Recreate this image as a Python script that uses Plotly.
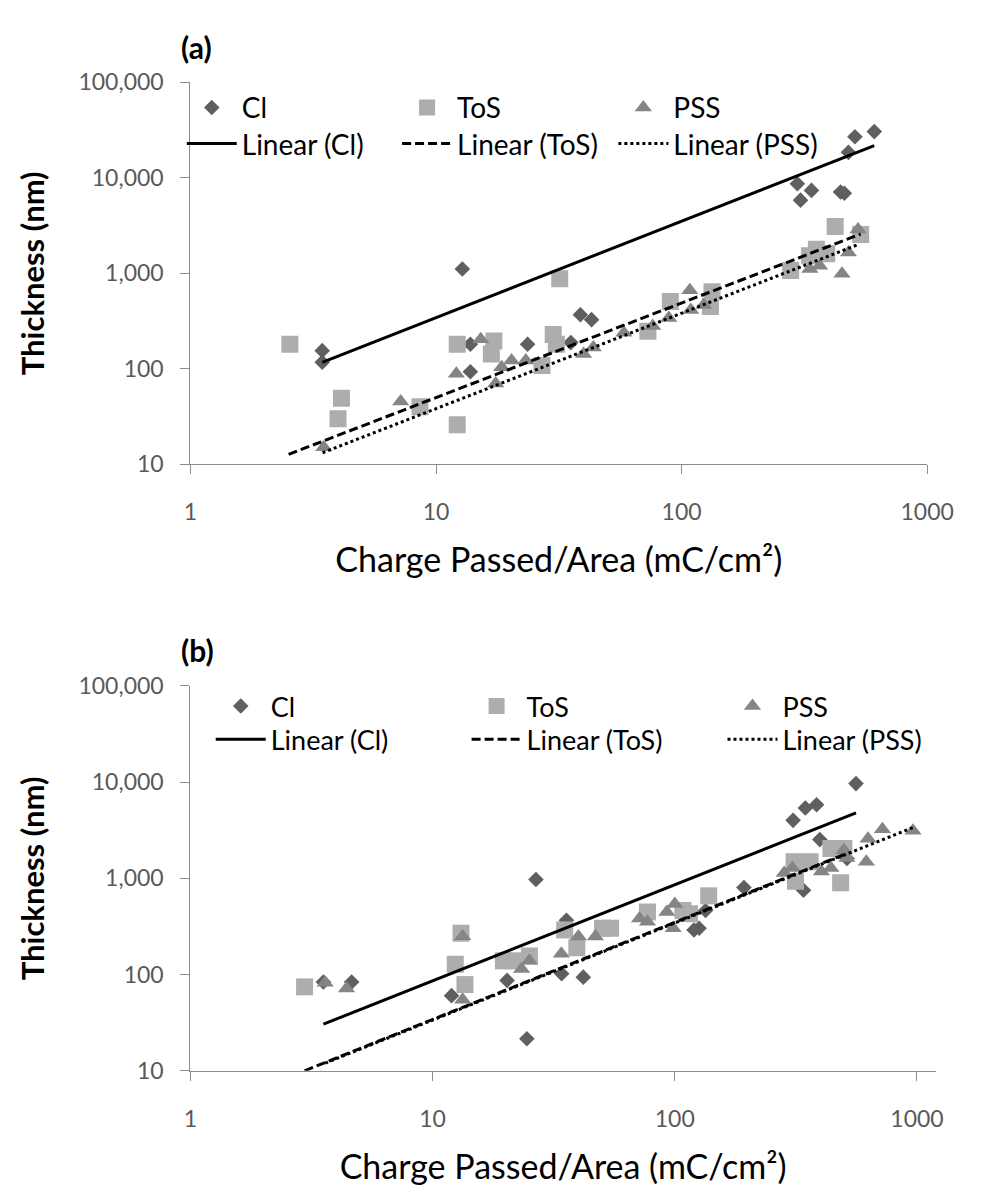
import plotly.graph_objects as go

W, H = 987, 1200

# ---------------- Panel (a) data ----------------
a_cl_x = [3.44, 3.44, 12.8, 13.8, 13.8, 23.6, 35.4, 38.7, 43, 296, 305, 338, 444, 460, 478, 508, 609]
a_cl_y = [155, 117, 1110, 181, 93, 181, 188, 368, 327, 8670, 5840, 7390, 7110, 6900, 18500, 27000, 30500]

a_tos_x = [2.54, 4.12, 3.99, 8.6, 12.2, 12.2, 16.8, 17.2, 27, 30, 30.9, 31.9, 72.9, 90, 131, 133, 278, 332, 354, 390, 422, 536]
a_tos_y = [181, 49, 30, 40, 26, 181, 143, 196, 108, 229, 181, 878, 248, 506, 449, 641, 1070, 1530, 1790, 1600, 3100, 2550]

a_pss_x = [3.49, 7.18, 12.1, 15.2, 17.5, 18.5, 20.3, 23.2, 39.9, 43.7, 58.2, 76.3, 88.7, 108, 109, 123, 333, 365, 450, 478, 523]
a_pss_y = [15.1, 45.5, 89, 204, 70, 104, 122, 122, 143, 167, 239, 280, 341, 665, 414, 466, 1110, 1200, 988, 1650, 2870]

a_fit_cl_x, a_fit_cl_y = [3.44, 609], [117, 21800]
a_fit_tos_x, a_fit_tos_y = [2.51, 536], [12.7, 2580]
a_fit_pss_x, a_fit_pss_y = [3.45, 523], [13.2, 2000]

# ---------------- Panel (b) data ----------------
b_cl_x = [3.54, 4.63, 11.97, 20.3, 24.5, 26.7, 34.1, 35.7, 41.9, 120, 126, 134, 193, 308, 340, 346, 385, 397, 514, 560]
b_cl_y = [83.7, 83.7, 60.4, 87, 21.5, 972, 102, 367, 94, 291, 303, 463, 802, 4010, 752, 5380, 5830, 2530, 1610, 9660]

b_tos_x = [2.96, 12.4, 13.1, 13.6, 19.6, 21.5, 25.1, 35.1, 39.4, 50.3, 54.3, 77.1, 108, 115, 138, 311, 315, 362, 441, 484, 499]
b_tos_y = [74.5, 128, 269, 78.7, 139, 139, 156, 291, 190, 303, 303, 447, 463, 429, 658, 1490, 935, 1490, 2040, 900, 2040]

b_pss_x = [3.6, 4.41, 13.3, 13.3, 23.3, 25.1, 34, 40, 47, 71.5, 77.1, 92.7, 98.5, 100, 283, 306, 403, 441, 499, 514, 618, 628, 720, 963]
b_pss_y = [82, 71.6, 250, 54.6, 114, 139, 165, 249, 249, 382, 354, 447, 303, 542, 1140, 1280, 1180, 1280, 1960, 1630, 1490, 2580, 3250, 3130]

b_fit_cl_x, b_fit_cl_y = [3.54, 560], [30.5, 4800]
b_fit_tos_x, b_fit_tos_y = [2.96, 499], [10, 1770]
b_fit_pss_x, b_fit_pss_y = [3.6, 963], [12, 3380]

# ---------------- tick labels ----------------
x_tickvals = [1, 10, 100, 1000]
x_ticktext = ["1", "10", "100", "1000"]
y_tickvals = [10, 100, 1000, 10000, 100000]
y_ticktext = ["10", "100", "1,000", "10,000", "100,000"]

series_names = ["Cl", "ToS", "PSS"]
fit_names = ["Linear (Cl)", "Linear (ToS)", "Linear (PSS)"]

CL_COLOR = "#5f5f5f"
TOS_COLOR = "#adadad"
PSS_COLOR = "#858585"

marker_styles = [dict(symbol="diamond", size=12, color=CL_COLOR),
                 dict(symbol="square", size=17, color=TOS_COLOR),
                 dict(symbol="triangle-up", size=15, color=PSS_COLOR)]
line_styles = [dict(color="black", width=3),
               dict(color="black", width=3, dash="9px,4px"),
               dict(color="black", width=3, dash="3px,3px")]

fig = go.Figure()
legend_layout = {}


def leg_id(n):
    return "legend" if n == 1 else "legend%d" % n


def leg_box(x0, yc, fsize):
    return dict(x=(x0 - 1) / W, y=1 - yc / H, xanchor="left", yanchor="middle",
                visible=True, itemwidth=50, bgcolor="rgba(0,0,0,0)",
                font=dict(size=fsize, color="black", family="Lato, sans-serif"))


def add_panel(xa, ya, leg_start, pts, fits, col_px, row_px, fsize):
    n = leg_start
    for i in range(3):
        lid = leg_id(n)
        fig.add_trace(go.Scatter(x=pts[i][0], y=pts[i][1], mode="markers", name=series_names[i],
                                 marker=marker_styles[i], xaxis=xa, yaxis=ya, legend=lid))
        legend_layout[lid] = leg_box(col_px[i], row_px[0], fsize)
        n += 1
    for i in range(3):
        lid = leg_id(n)
        fig.add_trace(go.Scatter(x=fits[i][0], y=fits[i][1], mode="lines", name=fit_names[i],
                                 line=line_styles[i], xaxis=xa, yaxis=ya, legend=lid))
        legend_layout[lid] = leg_box(col_px[i], row_px[1], fsize)
        n += 1


add_panel("x", "y", 1,
          [(a_cl_x, a_cl_y), (a_tos_x, a_tos_y), (a_pss_x, a_pss_y)],
          [(a_fit_cl_x, a_fit_cl_y), (a_fit_tos_x, a_fit_tos_y), (a_fit_pss_x, a_fit_pss_y)],
          col_px=[182, 405, 629], row_px=[95, 132], fsize=28)
add_panel("x2", "y2", 7,
          [(b_cl_x, b_cl_y), (b_tos_x, b_tos_y), (b_pss_x, b_pss_y)],
          [(b_fit_cl_x, b_fit_cl_y), (b_fit_tos_x, b_fit_tos_y), (b_fit_pss_x, b_fit_pss_y)],
          col_px=[212, 477, 742], row_px=[708, 742], fsize=27)

AXCOL = "#8c8c8c"
axis_common = dict(type="log", showline=True, linecolor=AXCOL, linewidth=1.3,
                   ticks="outside", ticklen=9, tickwidth=1.3, tickcolor=AXCOL,
                   showgrid=False, zeroline=False, mirror=False,
                   tickfont=dict(size=23, color="#595959", family="Lato, sans-serif"))

xtitle = dict(text="Charge Passed/Area (mC/cm²)",
              font=dict(size=34, color="black", family="Lato, sans-serif"), standoff=24)
ytitle = dict(text="<b>Thickness (nm)</b>",
              font=dict(size=31, color="black", family="Lato, sans-serif"), standoff=24)


def px_x(p):
    return p / W


def px_y(p):
    return 1 - p / H


fig.update_layout(
    width=W, height=H,
    margin=dict(l=0, r=0, t=0, b=0),
    paper_bgcolor="white", plot_bgcolor="white",
    showlegend=True,
    font=dict(family="Lato, sans-serif", color="black"),
    xaxis=dict(axis_common, range=[0, 3], domain=[px_x(190), px_x(953)], anchor="y",
               tickvals=x_tickvals, ticktext=x_ticktext, ticklabelstandoff=18, title=xtitle),
    yaxis=dict(axis_common, range=[1, 5], domain=[px_y(460), px_y(69)], anchor="x",
               tickvals=y_tickvals, ticktext=y_ticktext, ticklabelstandoff=12, title=ytitle),
    xaxis2=dict(axis_common, range=[0, 3.078], domain=[px_x(190), px_x(962)], anchor="y2",
                tickvals=x_tickvals, ticktext=x_ticktext, ticklabelstandoff=18, title=xtitle),
    yaxis2=dict(axis_common, range=[1, 5], domain=[px_y(1081), px_y(687)], anchor="x2",
                tickvals=y_tickvals, ticktext=y_ticktext, ticklabelstandoff=12, title=ytitle),
    annotations=[
        dict(text="<b>(a)</b>", x=px_x(196), y=px_y(33), xref="paper", yref="paper",
             showarrow=False, font=dict(size=30, color="black"), xanchor="center", yanchor="middle"),
        dict(text="<b>(b)</b>", x=px_x(197), y=px_y(650), xref="paper", yref="paper",
             showarrow=False, font=dict(size=30, color="black"), xanchor="center", yanchor="middle"),
    ],
)
fig.update_layout(**legend_layout)

fig.write_html("out.html")
